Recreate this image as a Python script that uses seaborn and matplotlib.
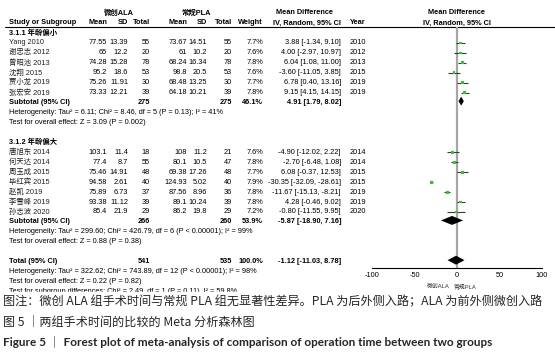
import matplotlib
matplotlib.use("Agg")
import matplotlib.pyplot as plt
import pandas as pd
import seaborn as sns

# study level data
studies = ["Yang 2010", "谢忠志 2012", "曾昭池 2013", "沈翔 2015", "贾小龙 2019", "张宏安 2019",
           "唐旭东 2014", "何天达 2014", "周玉成 2015", "毕红宾 2015", "赵凯 2019", "李雪峰 2019", "孙志波 2020"]
subgroup = ["3.1.1"] * 6 + ["3.1.2"] * 7
mean_ala = [77.55, 65, 74.28, 95.2, 75.26, 73.33, 103.1, 77.4, 75.46, 94.58, 75.89, 93.38, 85.4]
sd_ala = [13.39, 12.2, 15.28, 18.6, 11.91, 12.21, 11.4, 8.7, 14.91, 2.61, 6.73, 11.12, 21.9]
n_ala = [55, 20, 78, 53, 30, 39, 18, 55, 48, 40, 37, 39, 29]
mean_pla = [73.67, 61, 68.24, 98.8, 68.48, 64.18, 108, 80.1, 69.38, 124.93, 87.56, 89.1, 86.2]
sd_pla = [14.51, 10.2, 16.34, 20.5, 13.25, 10.21, 11.2, 10.5, 17.26, 5.02, 8.96, 10.24, 19.8]
n_pla = [55, 20, 78, 53, 30, 39, 21, 47, 48, 40, 36, 39, 29]
weight = [7.7, 7.6, 7.8, 7.6, 7.7, 7.8, 7.6, 7.8, 7.7, 7.9, 7.8, 7.8, 7.2]
md = [3.88, 4.00, 6.04, -3.60, 6.78, 9.15, -4.90, -2.70, 6.08, -30.35, -11.67, 4.28, -0.80]
ci_lo = [-1.34, -2.97, 1.08, -11.05, 0.40, 4.15, -12.02, -6.48, -0.37, -32.09, -15.13, -0.46, -11.55]
ci_hi = [9.10, 10.97, 11.00, 3.85, 13.16, 14.15, 2.22, 1.08, 12.53, -28.61, -8.21, 9.02, 9.95]
year = [2010, 2012, 2013, 2015, 2019, 2019, 2014, 2014, 2015, 2015, 2019, 2019, 2020]

# pooled estimates
pooled_label = ["Subtotal (95% CI)", "Subtotal (95% CI)", "Total (95% CI)"]
pooled_n_ala = [275, 266, 541]
pooled_n_pla = [275, 260, 535]
pooled_weight = [46.1, 53.9, 100.0]
pooled_md = [4.91, -5.87, -1.12]
pooled_lo = [1.79, -18.90, -11.03]
pooled_hi = [8.02, 7.16, 8.78]
pooled_notes = [
    ["Heterogeneity: Tau² = 6.11; Chi² = 8.46, df = 5 (P = 0.13); I² = 41%",
     "Test for overall effect: Z = 3.09 (P = 0.002)"],
    ["Heterogeneity: Tau² = 299.60; Chi² = 426.79, df = 6 (P < 0.00001); I² = 99%",
     "Test for overall effect: Z = 0.88 (P = 0.38)"],
    ["Heterogeneity: Tau² = 322.62; Chi² = 743.89, df = 12 (P < 0.00001); I² = 98%",
     "Test for overall effect: Z = 0.22 (P = 0.82)",
     "Test for subgroup differences: Chi² = 2.49, df = 1 (P = 0.11), I² = 59.8%"],
]
subgroup_titles = ["3.1.1 年龄偏小", "3.1.2 年龄偏大"]
x_ticks = [-100, -50, 0, 50, 100]

caption_lines = [
    "图注：微创 ALA 组手术时间与常规 PLA 组无显著性差异。PLA 为后外侧入路；ALA 为前外侧微创入路",
    "图 5 ｜两组手术时间的比较的 Meta 分析森林图",
    "Figure 5 ｜ Forest plot of meta-analysis of comparison of operation time between two groups",
]

df = pd.DataFrame(dict(study=studies, subgroup=subgroup, mean_ala=mean_ala, sd_ala=sd_ala,
                       n_ala=n_ala, mean_pla=mean_pla, sd_pla=sd_pla, n_pla=n_pla,
                       weight=weight, md=md, lo=ci_lo, hi=ci_hi, year=year))
# table row numbers
df["row"] = list(range(0, 6)) + list(range(11, 18))
pooled_rows = [6, 18, 22]

sns.set_style("white")
plt.rcParams["font.family"] = ["Liberation Sans", "Noto Sans CJK SC"]

W, H = 555, 356
ROW0, DY = 43, 9.94
FS = 5.3


def ypix(r):
    return ROW0 + r * DY


fig = plt.figure(figsize=(W / 100, H / 100), dpi=100)
ax = fig.add_axes([0, 0, 1, 1])
ax.set_xlim(0, W)
ax.set_ylim(H, 0)
ax.axis("off")

# column right edges
X_NAME, X_M1, X_SD1, X_N1, X_M2, X_SD2, X_N2, X_W, X_CI, X_YR = 9, 107, 128, 150, 187, 207, 232, 263, 341, 350


def txt(x, y, s, ha="right", bold=False, size=FS, color="black"):
    return ax.text(x, y, s, ha=ha, va="center", fontsize=size,
                   fontweight="bold" if bold else "normal", color=color)


# headers
txt(119, 13, "微创ALA", ha="center", bold=True)
txt(196, 13, "常规PLA", ha="center", bold=True)
txt(276, 13, "Mean Difference", ha="left", bold=True)
txt(457, 13, "Mean Difference", ha="center", bold=True)
hy = 23
txt(X_NAME, hy, "Study or Subgroup", ha="left", bold=True)
for x, s in [(X_M1, "Mean"), (X_SD1, "SD"), (X_N1, "Total"), (X_M2, "Mean"), (X_SD2, "SD"),
             (X_N2, "Total"), (X_W, "Weight"), (X_CI, "IV, Random, 95% CI")]:
    txt(x, hy, s, bold=True)
txt(X_YR, hy, "Year", ha="left", bold=True)
txt(457, hy, "IV, Random, 95% CI", ha="center", bold=True)
ax.plot([5, W], [27, 27], color="black", lw=0.8)

# subgroup titles
txt(X_NAME, ypix(-1), subgroup_titles[0], ha="left", bold=True)
txt(X_NAME, ypix(10), subgroup_titles[1], ha="left", bold=True)

for _, r in df.iterrows():
    y = ypix(r.row)
    txt(X_NAME, y, r.study, ha="left", color="#222222")
    txt(X_M1, y, f"{r.mean_ala:g}")
    txt(X_SD1, y, f"{r.sd_ala:g}")
    txt(X_N1, y, f"{r.n_ala:d}")
    txt(X_M2, y, f"{r.mean_pla:g}")
    txt(X_SD2, y, f"{r.sd_pla:g}")
    txt(X_N2, y, f"{r.n_pla:d}")
    txt(X_W, y, f"{r.weight:.1f}%")
    txt(X_CI, y, f"{r.md:.2f} [{r.lo:.2f}, {r.hi:.2f}]")
    txt(X_YR, y, f"{r.year}", ha="left")

for i, pr in enumerate(pooled_rows):
    y = ypix(pr)
    txt(X_NAME, y, pooled_label[i], ha="left", bold=True)
    txt(X_N1, y, f"{pooled_n_ala[i]}", bold=True)
    txt(X_N2, y, f"{pooled_n_pla[i]}", bold=True)
    txt(X_W, y, f"{pooled_weight[i]:.1f}%", bold=True)
    txt(X_CI, y, f"{pooled_md[i]:.2f} [{pooled_lo[i]:.2f}, {pooled_hi[i]:.2f}]", bold=True)
    for k, note in enumerate(pooled_notes[i]):
        txt(X_NAME, ypix(pr + 1 + k), note, ha="left")

# forest panel
top_px, bot_px = 27, 268
fa = fig.add_axes([372 / W, (H - bot_px) / H, 170 / W, (bot_px - top_px) / H])
fa.patch.set_alpha(0)
fa.set_xlim(-100, 100)
fa.set_ylim((bot_px - ROW0) / DY, (top_px - ROW0) / DY)
fa.axvline(0, color="#a6a6a6", lw=1.6, zorder=0)
fa.hlines(df["row"], df["lo"], df["hi"], color="#3a3a3a", lw=0.8, zorder=1)
sns.scatterplot(data=df, x="md", y="row", marker="s", color="#1fd21f", s=df["weight"] * 0.55,
                edgecolor="none", legend=False, ax=fa, zorder=2)
for i, pr in enumerate(pooled_rows):
    fa.fill([pooled_lo[i], pooled_md[i], pooled_hi[i], pooled_md[i]],
            [pr - 0.15, pr - 0.6, pr - 0.15, pr + 0.3], color="black", lw=0, zorder=3)
for s in ["top", "left", "right"]:
    fa.spines[s].set_visible(False)
fa.spines["bottom"].set_linewidth(0.8)
fa.spines["bottom"].set_color("black")
fa.set_xticks(x_ticks)
fa.set_xticklabels([f"{t}" for t in x_ticks])
fa.set_yticks([])
fa.tick_params(axis="x", direction="inout", length=4, width=0.8, labelsize=5.3, pad=1, colors="black")
fa.set_xlabel("")
fa.set_ylabel("")

txt(450, 286, "微创ALA", ha="right", size=4.2, color="#333333")
txt(453, 286, "常规PLA", ha="left", size=4.2, color="#333333")

# caption block covers the last note line partially
ax.add_patch(plt.Rectangle((0, 291.5), W, H - 291.5, color="white", zorder=5))
cap_fams = [["Noto Sans CJK SC"], ["Noto Sans CJK SC"], ["Lato", "Noto Sans CJK SC"]]
ax.text(3, 302, caption_lines[0], ha="left", va="center", fontsize=8.75, family=cap_fams[0], zorder=6)
ax.text(3, 322, caption_lines[1], ha="left", va="center", fontsize=8.7, family=cap_fams[1], zorder=6)
ax.text(3, 342, caption_lines[2], ha="left", va="center", fontsize=8.45, family=cap_fams[2],
        fontweight="bold", zorder=6)

fig.savefig("out.png", dpi=100)
plt.close(fig)
